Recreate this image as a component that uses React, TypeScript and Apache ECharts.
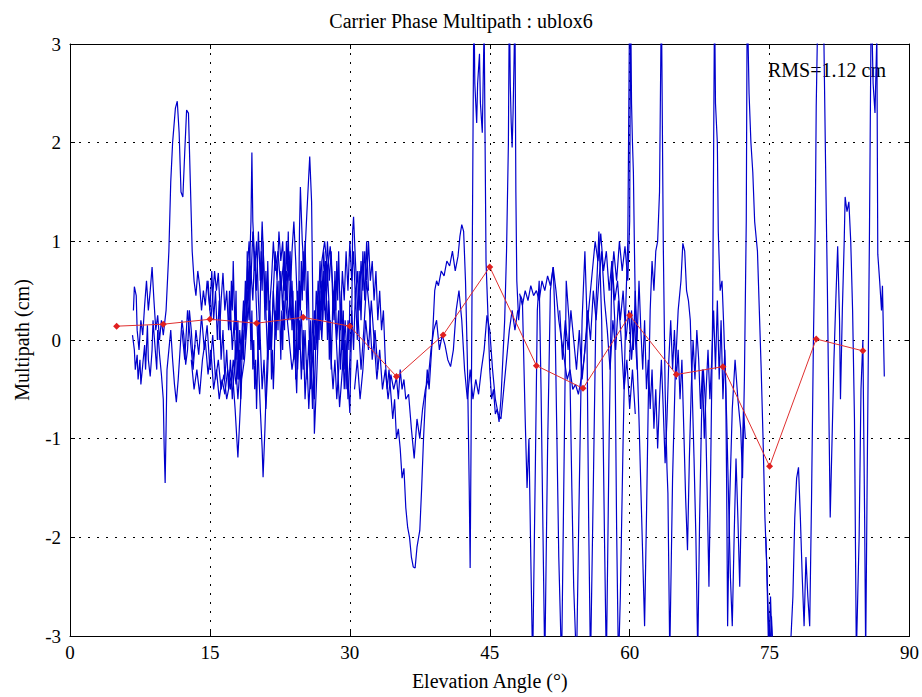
import React, { useEffect, useRef } from "react";
import * as echarts from "echarts";

const chartTitle = "Carrier Phase Multipath : ublox6";
const xAxisName = "Elevation Angle (°)";
const yAxisName = "Multipath (cm)";
const rmsLabel = "RMS=1.12 cm";

// binned mean multipath (red line)
const binElevation = [5, 10, 15, 20, 25, 30, 35, 40, 45, 50, 55, 60, 65, 70, 75, 80, 85];
const binMean = [0.14, 0.16, 0.21, 0.17, 0.23, 0.14, -0.37, 0.05, 0.74, -0.26, -0.49, 0.25, -0.35, -0.27, -1.28, 0.01, -0.11];

// raw multipath tracks [elevation, multipath]
const trackA = [[6.7,0.05],[6.9,-0.1],[7.0,-0.3],[7.2,-0.15],[7.3,-0.4],[7.5,-0.2],[7.6,-0.45],[7.8,-0.25],[8.0,-0.05],[8.1,-0.3],[8.3,0.15],[8.4,-0.2],[8.6,-0.37],[8.8,-0.1],[8.9,0.2],[9.1,-0.05],[9.3,-0.3],[9.4,0.1],[9.6,-0.15],[9.8,-0.35],[10.0,-0.6],[10.1,-1.1],[10.2,-1.45],[10.3,-0.9],[10.4,-0.3],[10.6,-0.1],[10.8,0.1],[11.0,-0.2],[11.2,-0.45],[11.4,-0.63],[11.6,-0.4],[11.8,-0.1],[12.0,0.2],[12.2,0.05],[12.4,-0.25],[12.6,-0.1],[12.8,0.3],[13.0,0.1],[13.2,-0.2],[13.4,-0.05]];
const trackB = [[6.8,0.3],[6.9,0.54],[7.1,0.45],[7.2,0.1],[7.4,-0.1],[7.6,0.2],[7.8,0.05],[8.0,0.35],[8.2,0.6],[8.4,0.3],[8.6,0.5],[8.8,0.74],[9.0,0.4],[9.2,0.1],[9.4,0.25],[9.6,0.0],[9.8,0.2],[10.0,0.05],[10.3,0.3],[10.6,0.9],[10.8,1.6],[11.0,2.0],[11.3,2.35],[11.5,2.42],[11.7,2.1],[11.9,1.5],[12.1,1.45],[12.3,1.9],[12.5,2.33],[12.7,2.3],[12.9,1.6],[13.1,0.9],[13.3,0.6],[13.5,0.45],[13.7,0.7],[13.9,0.55],[14.1,0.3],[14.3,0.5],[14.5,0.35],[14.7,0.6],[14.9,0.4],[15.1,0.2],[15.3,0.45],[15.5,0.7],[15.7,0.5],[15.9,0.68],[16.1,0.3]];
const trackC = [[12.0,0.1],[12.3,-0.2],[12.6,0.3],[12.9,0.0],[13.2,-0.3],[13.5,0.1],[13.8,-0.15],[14.1,0.25],[14.4,-0.1],[14.7,0.15],[15.0,-0.3],[15.3,0.05],[15.6,-0.4],[15.9,-0.2],[16.2,-0.5],[16.5,-0.35],[16.8,-0.6],[17.1,-0.45],[17.4,-0.3],[17.7,-0.7],[18.0,-1.19],[18.2,-0.8],[18.4,-0.4],[18.7,-0.2],[19.0,0.2],[19.2,0.6],[19.4,1.2],[19.5,1.9],[19.6,1.2],[19.8,0.8],[20.0,0.3],[20.2,-0.2],[20.4,-0.7],[20.6,-1.1],[20.7,-1.39],[20.9,-0.9],[21.1,-0.3],[21.3,0.2],[21.6,0.6],[21.8,1.0],[22.0,0.7],[22.3,0.9],[22.6,0.5],[22.9,0.8],[23.2,0.3],[23.5,0.0],[23.8,-0.3],[24.1,-0.1],[24.3,-0.54],[24.5,0.2],[24.6,1.1],[24.7,1.55],[24.9,1.0],[25.1,0.7],[25.4,1.3],[25.7,1.86],[25.9,1.4],[26.0,0.6],[26.1,-0.2],[26.2,-0.95],[26.4,-0.5],[26.7,0.3],[27.0,0.8],[27.3,1.0],[27.6,0.7],[27.9,0.95],[28.2,0.5],[28.5,0.1],[28.9,-0.68],[29.2,-0.3],[29.5,0.2],[29.8,-0.4],[30.0,-0.74],[30.2,0.2],[30.3,1.1],[30.4,1.25],[30.6,0.8],[30.9,0.2],[31.2,-0.3],[31.5,0.1],[31.8,0.6],[32.1,0.3],[32.4,-0.2],[32.7,0.1],[33.0,-0.3]];
const trackD = [[14.8,0.6],[15.0,0.3],[15.2,0.7],[15.4,0.2],[15.6,0.5],[15.8,0.0],[16.0,0.4],[16.2,-0.2],[16.4,0.1],[16.6,-0.4],[16.8,-0.1],[17.0,-0.5],[17.2,-0.2],[17.4,-0.6],[17.6,-0.3],[17.8,0.0],[18.0,-0.4],[18.2,0.1],[18.4,-0.2],[18.6,0.3],[18.8,0.0],[19.0,0.5],[19.2,0.2],[19.4,0.7],[19.6,0.4],[19.8,0.9],[20.0,0.5],[20.2,1.1],[20.4,0.6],[20.6,1.2],[20.8,0.7],[21.0,0.3],[21.2,-0.2],[21.4,0.4],[21.6,-0.1],[21.8,0.5],[22.0,0.1],[22.2,0.6],[22.4,0.2],[22.6,0.7],[22.8,0.3],[23.0,0.9],[23.2,0.4],[23.4,0.8],[23.6,0.2],[23.8,0.6],[24.0,0.0],[24.2,0.4],[24.4,-0.3],[24.6,0.2],[24.8,-0.4],[25.0,0.1],[25.2,-0.6],[25.4,-0.2],[25.6,-0.7],[25.8,-0.3],[26.0,0.2],[26.2,-0.1],[26.4,0.5],[26.6,0.2],[26.8,0.8],[27.0,0.4],[27.2,0.9],[27.4,0.5],[27.6,1.0],[27.8,0.6],[28.0,0.9],[28.2,0.3],[28.4,0.6],[28.6,0.0],[28.8,0.3],[29.0,-0.3],[29.2,0.1],[29.4,-0.5],[29.6,-0.1],[29.8,-0.6],[30.0,-0.2],[30.2,0.3],[30.4,-0.1],[30.6,0.5],[30.8,0.0],[31.0,0.7],[31.2,0.2],[31.4,0.9],[31.6,0.4],[31.8,1.0],[32.0,0.5]];
const trackE = [[16.0,0.0],[16.2,0.4],[16.4,0.68],[16.6,0.3],[16.8,0.5],[17.0,0.1],[17.2,0.3],[17.4,-0.1],[17.6,0.2],[17.8,-0.3],[18.0,-0.6],[18.2,-0.3],[18.4,0.0],[18.6,0.4],[18.8,0.1],[19.0,0.7],[19.2,1.0],[19.4,0.6],[19.6,1.1],[19.8,0.7],[20.0,1.0],[20.2,0.4],[20.4,0.0],[20.6,-0.5],[20.8,-0.2],[21.0,-0.7],[21.2,-0.3],[21.4,0.3],[21.6,0.0],[21.8,0.5],[22.0,0.9],[22.2,0.6],[22.4,1.1],[22.6,0.8],[22.8,1.0],[23.0,0.5],[23.2,0.7],[23.4,0.2],[23.6,0.4],[23.8,0.9],[24.0,1.2],[24.2,0.8],[24.4,0.3],[24.6,-0.1],[24.8,0.3],[25.0,-0.3],[25.2,0.1],[25.4,-0.4],[25.6,0.0],[25.8,-0.5],[26.0,-0.2],[26.2,0.3],[26.4,0.0],[26.6,0.6],[26.8,0.3],[27.0,0.0],[27.2,0.5],[27.4,0.2],[27.6,0.7],[27.8,0.3],[28.0,-0.2],[28.2,-0.5],[28.4,-0.2],[28.6,-0.6],[28.8,-0.3],[29.0,0.2],[29.2,0.7],[29.4,0.4],[29.6,0.9],[29.8,0.5],[30.0,1.0],[30.2,0.6],[30.4,0.9],[30.6,0.4],[30.8,0.7],[31.0,0.3],[31.2,0.8],[31.4,0.5],[31.6,0.9],[31.8,0.6],[32.0,1.0],[32.2,0.6],[32.4,0.8],[32.6,0.4],[32.8,0.7],[33.0,0.2],[33.2,0.5],[33.4,0.1],[33.6,0.3],[33.8,-0.2],[34.0,-0.5],[34.2,-0.3],[34.4,-0.55],[34.6,-0.8],[34.8,-0.6],[35.0,-1.0],[35.2,-0.9],[35.4,-1.1],[35.6,-1.4],[35.8,-1.3],[36.0,-1.7],[36.2,-1.9],[36.4,-2.0],[36.6,-2.2],[36.8,-2.3],[37.0,-2.31],[37.2,-2.1],[37.5,-1.93],[37.7,-1.5],[37.9,-1.0],[38.1,-0.6],[38.3,-0.3],[38.5,-0.5],[38.7,-0.2],[38.9,0.1],[39.1,0.5],[39.3,0.6],[39.5,0.55],[39.8,0.7],[40.1,0.65],[40.4,0.8],[40.7,0.75],[41.0,0.9],[41.3,0.7],[41.6,0.85],[41.8,1.05],[42.0,1.17],[42.2,1.1],[42.4,0.6],[42.6,-0.2],[42.8,-1.5],[42.9,-2.31],[43.0,-1.0],[43.1,0.5],[43.2,2.0],[43.3,3.5],[43.4,2.6],[43.6,2.2],[43.7,2.6],[43.9,2.9],[44.0,2.4],[44.2,2.1],[44.4,3.2],[44.5,2.0],[44.6,0.8],[44.8,0.27],[45.0,-0.3],[45.2,-0.6],[45.4,-0.5],[45.6,-0.75],[45.8,-0.7],[46.0,-0.83],[46.2,-0.6],[46.4,-0.2],[46.6,0.2],[46.8,0.9],[47.0,2.0],[47.1,3.5],[47.2,2.6],[47.3,2.2],[47.4,1.95],[47.5,2.3],[47.6,2.8],[47.7,3.4],[47.8,1.5],[47.9,0.6],[48.1,0.2],[48.3,0.45],[48.5,0.4]];
const trackF = [[30.5,-0.5],[30.8,-0.2],[31.1,-0.6],[31.4,-0.3],[31.7,0.2],[32.0,-0.1],[32.3,0.4],[32.6,0.0],[32.9,-0.4],[33.2,-0.1],[33.5,-0.5],[33.8,-0.3],[34.1,-0.6],[34.4,-0.35],[34.7,-0.5],[35.0,-0.38],[35.2,-0.6],[35.4,-0.3],[35.6,-0.5],[35.8,-0.4],[36.0,-0.6],[36.3,-0.55],[36.6,-0.9],[36.9,-1.2],[37.2,-0.8],[37.5,-1.0],[37.8,-0.7],[38.1,-0.5],[38.4,-0.4],[38.7,-0.1],[39.0,0.1],[39.3,0.2],[39.6,-0.1],[39.9,0.05],[40.2,-0.05],[40.5,-0.2],[40.8,-0.27],[41.1,-0.1],[41.4,0.3],[41.7,0.5],[42.0,0.2],[42.3,-0.3],[42.6,-0.6],[42.9,-0.3],[43.2,-0.6],[43.5,-0.4],[43.8,-0.55],[44.1,-0.3],[44.4,-0.1],[44.7,0.25],[45.0,0.1],[45.3,-0.3],[45.6,-0.6],[45.9,-0.75],[46.2,-0.8],[46.5,-0.5],[46.8,-0.2],[47.1,0.1],[47.4,0.3],[47.7,0.1],[48.0,0.3]];
const trackG = [[48.5,0.4],[48.8,-0.8],[49.0,-1.5],[49.2,-1.0],[49.4,-2.2],[49.6,-3.3],[49.9,-1.2],[50.1,0.3],[50.3,0.6],[50.5,-0.5],[50.7,-1.9],[50.9,-3.3],[51.2,-1.1],[51.5,0.5],[51.8,0.74],[52.0,0.2],[52.2,-1.0],[52.4,-2.2],[52.7,-3.3],[53.0,-1.0],[53.2,0.6],[53.5,0.2],[53.8,-1.5],[54.0,-2.5],[54.3,-3.3],[54.6,-1.5],[54.9,0.2],[55.2,0.9],[55.4,0.3],[55.6,-1.8],[55.8,-3.3],[56.1,-1.5],[56.4,0.4],[56.7,1.1],[57.0,0.2],[57.3,-2.0],[57.5,-3.3],[57.8,-1.0],[58.1,0.8],[58.4,0.2],[58.6,-1.9],[58.8,-3.3],[59.0,-2.6],[59.3,-1.0],[59.6,0.4],[59.8,1.0],[60.0,3.5]];
const trackH = [[48.2,0.47],[48.5,0.35],[48.8,0.5],[49.1,0.4],[49.4,0.55],[49.7,0.45],[50.0,0.5],[50.3,0.4],[50.6,0.6],[50.9,0.5],[51.2,0.65],[51.5,0.55],[51.8,0.74],[52.1,0.5],[52.4,0.2],[52.7,0.0],[53.0,-0.2],[53.3,-0.4],[53.6,-0.3],[53.9,-0.5],[54.2,-0.45],[54.5,-0.55],[54.8,-0.4],[55.1,-0.2],[55.4,0.1],[55.7,0.4],[56.0,0.7],[56.3,1.0],[56.6,0.8],[56.9,1.08],[57.2,0.7],[57.5,0.9],[57.8,0.5],[58.1,0.8],[58.4,0.4],[58.7,0.6],[59.0,0.2],[59.3,0.5],[59.6,0.0],[59.9,0.3],[60.2,-0.2],[60.5,0.2],[60.8,-0.3]];
const trackI = [[52.5,0.3],[52.8,-0.2],[53.1,0.2],[53.4,-0.1],[53.7,0.3],[54.0,0.0],[54.3,-0.3],[54.6,0.1],[54.9,-0.4],[55.2,-0.1],[55.5,0.3],[55.8,0.0],[56.1,0.5],[56.4,0.2],[56.7,0.6],[57.0,0.9],[57.3,0.4],[57.6,0.1],[57.9,-0.3],[58.2,0.2],[58.5,-0.1],[58.8,0.4],[59.1,0.0],[59.4,-0.5],[59.7,-0.2],[60.0,-0.7],[60.3,-0.3],[60.6,-0.75]];
const trackJ = [[58.0,0.5],[58.3,0.9],[58.6,0.6],[58.9,1.0],[59.2,0.7],[59.5,0.95],[59.8,0.6],[60.0,1.2],[60.1,3.5],[60.2,2.4],[60.3,2.0],[60.4,1.7],[60.5,1.0],[60.6,0.4],[60.8,-0.2],[61.0,-0.8],[61.2,-1.5],[61.4,-2.2],[61.6,-2.9],[61.8,-1.8],[62.0,-0.6],[62.2,0.3],[62.4,0.8],[62.6,0.5],[62.8,0.9],[63.0,1.0],[63.2,1.5],[63.4,3.5],[63.6,1.0],[63.8,-0.5],[64.0,-1.3],[64.1,-1.55],[64.3,-3.2],[64.6,-1.4],[64.9,-0.3],[65.2,0.3],[65.5,0.6],[65.7,0.98],[65.9,0.9],[66.1,0.5],[66.3,0.4],[66.5,0.2],[66.7,-0.5],[66.9,-1.2],[67.1,-2.0],[67.3,-3.2],[67.5,-1.8],[67.7,-0.8],[67.9,-0.3],[68.1,-0.6],[68.3,-1.5],[68.5,-2.5],[68.7,-1.2],[68.9,0.3],[69.1,3.5],[69.2,2.4],[69.4,2.0],[69.5,1.1],[69.7,0.5],[69.9,0.6],[70.1,0.1],[70.3,-0.5],[70.4,-1.5],[70.5,-2.9],[70.7,-1.7],[71.0,-0.7],[71.3,-0.2],[71.6,-0.6],[71.9,-0.9],[72.1,-1.4],[72.3,-0.4],[72.5,1.2],[72.6,3.5],[72.8,2.5],[73.0,2.0],[73.2,1.7],[73.4,1.2],[73.7,0.9],[73.9,0.3],[74.1,-0.3],[74.3,-1.0],[74.5,-1.8],[74.7,-2.3],[74.9,-3.2],[75.1,-2.6],[75.3,-3.2]];
const trackK = [[60.0,-0.2],[60.2,0.3],[60.4,-0.1],[60.6,0.5],[60.8,0.0],[61.0,0.6],[61.2,0.1],[61.4,-0.3],[61.6,0.2],[61.8,-0.5],[62.0,-0.2],[62.2,-0.7],[62.4,-0.3],[62.6,-0.9],[62.8,-0.5],[63.0,-1.1],[63.2,-0.6],[63.4,-0.2],[63.6,-0.7],[63.8,-1.25],[64.0,-0.8],[64.2,-0.2],[64.4,0.2],[64.6,-0.3],[64.8,0.1],[65.0,-0.4],[65.2,-0.1],[65.4,-0.6],[65.6,-0.2],[65.8,-0.9],[66.0,-1.6],[66.2,-2.13],[66.4,-1.2],[66.6,-0.5],[66.8,0.0],[67.0,-0.4],[67.2,0.1],[67.4,-0.2],[67.6,-0.7],[67.8,-0.3],[68.0,-1.0],[68.2,-0.5],[68.4,-0.1],[68.6,-0.6],[68.8,-0.2],[69.0,0.3],[69.2,-0.3],[69.4,0.4],[69.6,-0.4],[69.8,0.2],[70.0,-0.6],[70.2,-0.1],[70.4,-0.8],[70.6,-1.6],[70.8,-2.4],[71.0,-2.9],[71.2,-2.0],[71.4,-1.2],[71.6,-1.8],[71.8,-2.5],[72.0,-1.5],[72.2,-0.7],[72.4,-1.0]];
const trackL = [[74.6,-2.0],[74.8,-2.6],[75.0,-3.2],[75.2,-2.8],[75.4,-3.2],[75.8,-3.3],[76.5,-3.3],[77.2,-3.2],[77.5,-2.6],[77.7,-1.8],[77.9,-1.4],[78.1,-1.29],[78.3,-1.8],[78.5,-2.4],[78.7,-2.9],[78.9,-2.2],[79.1,-2.6],[79.3,-2.9],[79.5,-1.6],[79.7,0.0],[79.9,1.2],[80.0,2.37],[80.2,3.5],[80.4,3.5],[80.6,3.5],[80.8,3.2],[81.0,1.8],[81.2,0.5],[81.3,-0.3],[81.4,-1.05],[81.5,-1.8],[81.7,-1.0],[81.9,-0.2],[82.1,0.4],[82.3,0.95],[82.5,0.2],[82.6,-0.6],[82.8,0.3],[83.0,1.0],[83.1,1.45],[83.3,1.3],[83.5,1.4],[83.7,1.0],[83.9,0.3],[84.1,-0.8],[84.3,-3.2],[84.6,-2.0],[84.8,-0.5],[85.0,0.0],[85.2,-1.9],[85.3,-3.2],[85.5,-1.0],[85.7,1.0],[85.9,3.5],[86.1,2.6],[86.3,2.3],[86.5,3.1],[86.6,0.87],[86.8,0.6],[87.0,0.3],[87.1,0.55],[87.3,-0.37]];
const trackM = [[13.0,-0.2],[13.3,-0.5],[13.6,-0.3],[13.9,-0.55],[14.2,-0.2],[14.5,0.0],[14.8,-0.35],[15.1,-0.1],[15.4,-0.5],[15.7,-0.3],[16.0,-0.6],[16.3,-0.4],[16.6,-0.55],[16.9,-0.3],[17.2,-0.5],[17.5,-0.2],[17.8,-0.45],[18.1,-0.1]];
const trackN = [[17.0,0.2],[17.1,0.5],[17.2,0.1],[17.3,0.6],[17.4,0.3],[17.5,0.8],[17.6,0.4],[17.7,0.1],[17.8,0.5],[17.9,-0.2],[18.0,0.2],[18.1,-0.4],[18.2,-0.1],[18.3,-0.6],[18.4,-0.3],[18.5,0.1],[18.6,-0.2],[18.7,0.3],[18.8,0.6],[18.9,0.2],[19.0,0.9],[19.1,0.4],[19.2,0.8],[19.3,0.3],[19.4,-0.1],[19.5,0.3],[19.6,-0.3],[19.7,0.0],[19.8,-0.5],[19.9,-0.2],[20.0,-0.7],[20.1,-0.3],[20.2,0.2],[20.3,-0.1],[20.4,0.4],[20.5,0.9],[20.6,0.5],[20.7,1.0],[20.8,0.6],[20.9,0.2],[21.0,0.7],[21.1,0.3],[21.2,0.8],[21.3,0.4],[21.4,-0.1],[21.5,0.2],[21.6,-0.4],[21.7,-0.1],[21.8,-0.5],[21.9,-0.2],[22.0,0.3],[22.1,0.0],[22.2,0.5],[22.3,0.1],[22.4,0.6],[22.5,0.2],[22.6,-0.2],[22.7,0.3],[22.8,-0.1],[22.9,0.4],[23.0,0.1],[23.1,0.6],[23.2,1.0],[23.3,0.7],[23.4,1.1],[23.5,0.6],[23.6,0.9],[23.7,0.4],[23.8,0.1],[23.9,0.5],[24.0,-0.2],[24.1,0.2],[24.2,-0.4],[24.3,0.0],[24.4,0.5],[24.5,0.1],[24.6,0.6],[24.7,0.3],[24.8,0.8],[24.9,0.4],[25.0,0.9],[25.1,0.5],[25.2,1.0],[25.3,0.6],[25.4,0.2],[25.5,0.7],[25.6,0.3],[25.7,-0.2],[25.8,0.2],[25.9,-0.4],[26.0,-0.7],[26.1,-0.3],[26.2,-0.6],[26.3,-0.2],[26.4,0.2],[26.5,-0.1],[26.6,0.4],[26.7,0.0],[26.8,0.5],[26.9,0.1],[27.0,0.6],[27.1,0.2],[27.2,0.7],[27.3,0.3],[27.4,0.8],[27.5,0.4],[27.6,0.0],[27.7,0.4],[27.8,-0.2],[27.9,0.2],[28.0,-0.3],[28.1,0.1],[28.2,0.5],[28.3,0.2],[28.4,0.7],[28.5,0.3],[28.6,0.8],[28.7,0.4],[28.8,0.9],[28.9,0.5],[29.0,0.1],[29.1,0.5],[29.2,-0.1],[29.3,0.3],[29.4,-0.3],[29.5,0.0],[29.6,-0.5],[29.7,-0.2],[29.8,0.2],[29.9,-0.1],[30.0,0.4]];

const tracks = [trackA, trackB, trackC, trackD, trackE, trackF, trackG, trackH, trackI, trackJ, trackK, trackL, trackM, trackN];

const SERIF = "'Liberation Serif', 'DejaVu Serif', serif";

export default function App() {
  const ref = useRef<HTMLDivElement>(null);
  useEffect(() => {
    if (!ref.current) return;
    const chart = echarts.init(ref.current, undefined, { renderer: "svg" });
    const dotted = { color: "#000", width: 1, type: [2, 7] as any };
    const baseAxisLine = { show: true, onZero: false, lineStyle: { color: "#000", width: 1 } };
    const tick = { show: true, inside: true, length: 5, lineStyle: { color: "#000" } };
    const blueSeries = tracks.map((t, i) => ({
      type: "line",
      name: "track" + i,
      data: t,
      showSymbol: false,
      symbol: "none",
      lineStyle: { color: "#0000cc", width: 1.2 },
      z: 2,
      silent: true,
    }));
    chart.setOption({
      animation: false,
      backgroundColor: "#fff",
      title: {
        text: chartTitle,
        left: "center",
        top: 6,
        textStyle: { fontFamily: SERIF, fontSize: 20, fontWeight: "normal", color: "#000" },
      },
      grid: { left: 70, right: 12, top: 44, bottom: 61, containLabel: false },
      xAxis: [
        {
          type: "value", min: 0, max: 90, interval: 15, position: "bottom",
          name: xAxisName, nameLocation: "middle", nameGap: 35,
          nameTextStyle: { fontFamily: SERIF, fontSize: 20, color: "#000" },
          axisLine: baseAxisLine, axisTick: tick,
          axisLabel: { fontFamily: SERIF, fontSize: 19, color: "#000", margin: 7 },
          splitLine: { show: true, lineStyle: dotted },
        },
        {
          type: "value", min: 0, max: 90, interval: 15, position: "top",
          axisLine: baseAxisLine, axisTick: tick, axisLabel: { show: false }, splitLine: { show: false },
        },
      ],
      yAxis: [
        {
          type: "value", min: -3, max: 3, interval: 1, position: "left",
          name: yAxisName, nameLocation: "middle", nameGap: 38,
          nameTextStyle: { fontFamily: SERIF, fontSize: 20, color: "#000" },
          axisLine: baseAxisLine, axisTick: tick,
          axisLabel: { fontFamily: SERIF, fontSize: 19, color: "#000", margin: 9 },
          splitLine: { show: true, lineStyle: dotted },
        },
        {
          type: "value", min: -3, max: 3, interval: 1, position: "right",
          axisLine: baseAxisLine, axisTick: tick, axisLabel: { show: false }, splitLine: { show: false },
        },
      ],
      series: [
        ...blueSeries,
        {
          type: "line",
          name: "mean",
          data: binElevation.map((e, i) => [e, binMean[i]]),
          symbol: "diamond",
          symbolSize: 7,
          showSymbol: true,
          lineStyle: { color: "#e03030", width: 1 },
          itemStyle: { color: "#e02020" },
          z: 5,
          silent: true,
        },
      ],
      graphic: [
        {
          type: "text",
          left: 768,
          top: 60,
          z: 1,
          style: { text: rmsLabel, fontFamily: SERIF, fontSize: 20, fill: "#000" },
        },
      ],
    });
    return () => chart.dispose();
  }, []);
  return (
    <div
      ref={ref}
      style={{ position: "fixed", left: 0, top: 0, width: 922, height: 697, background: "#fff" }}
    />
  );
}
